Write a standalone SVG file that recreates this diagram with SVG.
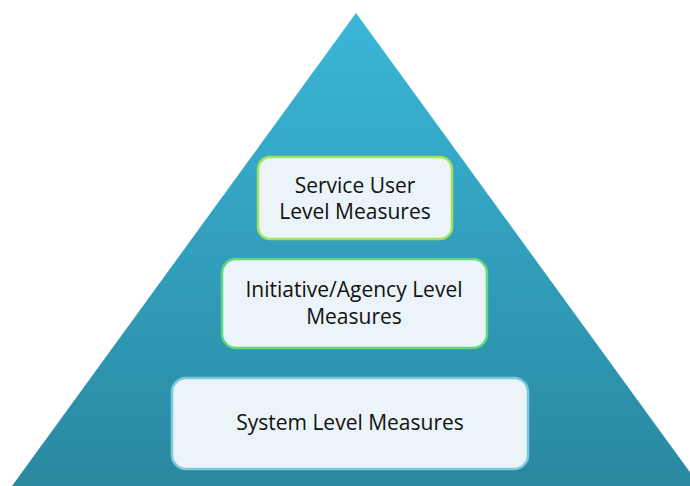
<svg xmlns="http://www.w3.org/2000/svg" width="690" height="486" viewBox="0 0 690 486">
  <defs>
    <linearGradient id="pyr" x1="0" y1="0" x2="0" y2="1">
      <stop offset="0" stop-color="#3ab6d8"/>
      <stop offset="1" stop-color="#2a88a0"/>
    </linearGradient>
    <style>
      .box { fill: #ebf4f8; stroke-width: 2.5; }
      .lbl { font-family: "Open Sans", "Liberation Sans", sans-serif; font-size: 21px; fill: #111; text-anchor: middle; }
    </style>
  </defs>
  <rect width="690" height="486" fill="#ffffff"/>
  <polygon id="pyramid" points="356,13 12,486 700,486" fill="url(#pyr)"/>
  <g id="service-user">
    <rect class="box" x="258" y="157" width="194" height="82" rx="12" stroke="#a3e35a"/>
    <text class="lbl" x="355" y="193">Service User</text>
    <text class="lbl" x="355" y="219">Level Measures</text>
  </g>
  <g id="initiative-agency">
    <rect class="box" x="222" y="259" width="265" height="89" rx="14" stroke="#5fd77f"/>
    <text class="lbl" x="354" y="297">Initiative/Agency Level</text>
    <text class="lbl" x="354" y="324">Measures</text>
  </g>
  <g id="system">
    <rect class="box" x="172" y="378" width="356" height="91" rx="14" stroke="#80c9dc"/>
    <text class="lbl" x="350" y="430">System Level Measures</text>
  </g>
  <g id="connectors"/>
</svg>
